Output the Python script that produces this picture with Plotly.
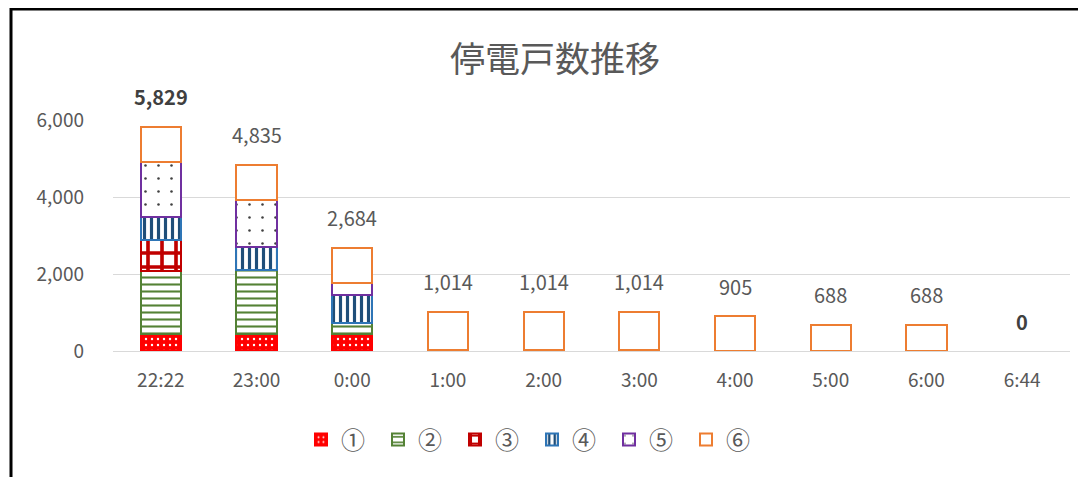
import plotly.graph_objects as go

categories = ["22:22", "23:00", "0:00", "1:00", "2:00", "3:00", "4:00", "5:00", "6:00", "6:44"]
s1 = [442, 442, 442, 25, 25, 25, 0, 0, 0, 0]
s2 = [1636, 1662, 290, 0, 0, 0, 0, 0, 0, 0]
s3 = [805, 0, 0, 0, 0, 0, 0, 0, 0, 0]
s4 = [605, 606, 720, 0, 0, 0, 0, 0, 0, 0]
s5 = [1413, 1212, 306, 0, 0, 0, 0, 0, 0, 0]
s6 = [928, 913, 926, 989, 989, 989, 905, 688, 688, 0]
totals = [5829, 4835, 2684, 1014, 1014, 1014, 905, 688, 688, 0]
series_names = ["①", "②", "③", "④", "⑤", "⑥"]
bold_labels = ["22:22", "6:44"]

FONT = "Noto Sans CJK JP"
GREY = "#595959"

styles = [
    dict(color="#FF0000", line="#FF0000", shape=".", fg="#FFFFFF", size=6, sol=0.12),
    dict(color="#FFFFFF", line="#548235", shape="-", fg="#548235", size=7, sol=0.3),
    dict(color="#FFFFFF", line="#C00000", shape="+", fg="#C00000", size=14, sol=0.45),
    dict(color="#FFFFFF", line="#2E75B6", shape="|", fg="#1F4E79", size=7, sol=0.45),
    dict(color="#FFFFFF", line="#7030A0", shape=".", fg="#404040", size=13, sol=0.03),
    dict(color="#FFFFFF", line="#ED7D31", shape="", fg="#ED7D31", size=8, sol=0.3),
]
values = [s1, s2, s3, s4, s5, s6]

fig = go.Figure()
for name, vals, st in zip(series_names, values, styles):
    fig.add_trace(go.Bar(
        x=categories, y=[v if v else None for v in vals], name=name, width=0.42,
        marker=dict(
            color=st["color"],
            line=dict(color=st["line"], width=2),
            pattern=dict(shape=st["shape"], fgcolor=st["fg"], bgcolor=st["color"],
                         size=st["size"], solidity=st["sol"], fillmode="replace"),
        ),
    ))

for c, t in zip(categories, totals):
    bold = c in bold_labels
    fig.add_annotation(
        x=c, y=t, text=(f"<b>{t:,}</b>" if bold else f"{t:,}"),
        showarrow=False, yanchor="middle", yshift=30,
        font=dict(family=FONT, size=20, color="#404040" if bold else GREY),
    )

# page body has an 8px margin; work in figure coordinates
W, H = 1078, 469
L, R, T, B = 105, 16, 112, 126
pw, ph = W - L - R, H - T - B
fig.add_shape(type="rect", xref="paper", yref="paper",
              x0=(3 - L) / pw, x1=(W + 30 - L) / pw,
              y0=(H - B - (H + 30)) / ph, y1=(H - B - 1) / ph,
              line=dict(color="black", width=3), fillcolor="rgba(0,0,0,0)", layer="above")

fig.update_layout(
    width=W, height=H,
    margin=dict(l=L, r=R, t=T, b=B),
    paper_bgcolor="white", plot_bgcolor="white",
    barmode="stack", bargap=0.58,
    title=dict(text="停電戸数推移", x=547 / W, y=1 - 52 / H, xanchor="center", yanchor="middle",
               font=dict(family=FONT, size=35, color=GREY)),
    font=dict(family=FONT, color=GREY),
    legend=dict(orientation="h", x=(524 - L) / pw, xanchor="center",
                y=(H - B - 432) / ph, yanchor="middle", traceorder="normal",
                font=dict(family=FONT, size=24, color=GREY),
                itemwidth=30, tracegroupgap=0, entrywidth=32, entrywidthmode="pixels"),
    showlegend=True,
)
fig.update_yaxes(range=[0, 6000], tickvals=[0, 2000, 4000, 6000], tickformat=",",
                 showgrid=True, gridcolor="#D9D9D9", gridwidth=1, zeroline=True,
                 zerolinecolor="#D9D9D9", zerolinewidth=1, showline=False,
                 ticklabelstandoff=28, tickfont=dict(family=FONT, size=19, color=GREY))
fig.update_xaxes(showgrid=False, showline=False, ticks="",
                 ticklabelstandoff=16, tickfont=dict(family=FONT, size=19, color=GREY))

fig.write_html("out.html")
